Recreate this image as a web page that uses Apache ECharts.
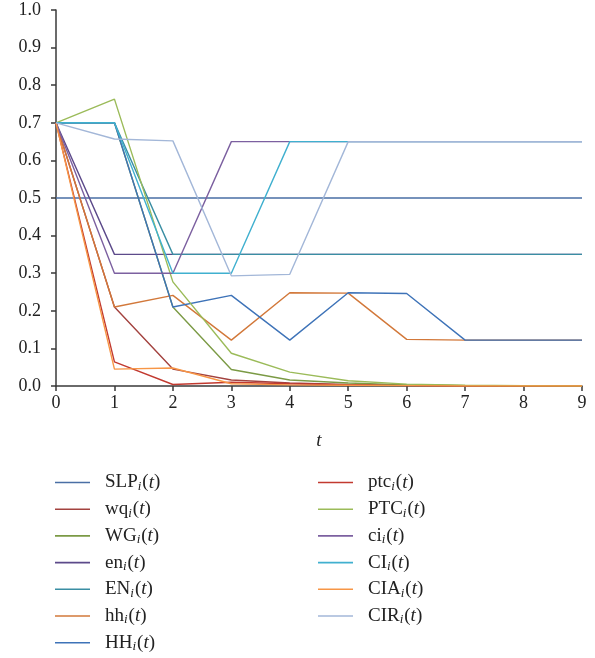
<!DOCTYPE html>
<html>
<head>
<meta charset="utf-8">
<script src="https://cdn.jsdelivr.net/npm/echarts@6/dist/echarts.min.js"></script>
<style>
  html, body { margin: 0; padding: 0; background: #fff; }
  #chart { width: 595px; height: 658px; }
</style>
</head>
<body>
<div id="chart"></div>
<script>
    // time steps
    var tSteps = [0, 1, 2, 3, 4, 5, 6, 7, 8, 9];

    // series values
    var SLP = [0.5, 0.5, 0.5, 0.5, 0.5, 0.5, 0.5, 0.5, 0.5, 0.5];
    var wq  = [0.7, 0.21, 0.045, 0.016, 0.008, 0.004, 0.002, 0.001, 0, 0];
    var WG  = [0.7, 0.7, 0.21, 0.044, 0.016, 0.008, 0.003, 0.001, 0, 0];
    var en  = [0.7, 0.35, 0.35, 0.35, 0.35, 0.35, 0.35, 0.35, 0.35, 0.35];
    var EN  = [0.7, 0.7, 0.35, 0.35, 0.35, 0.35, 0.35, 0.35, 0.35, 0.35];
    var hh  = [0.7, 0.21, 0.241, 0.122, 0.248, 0.247, 0.124, 0.122, 0.122, 0.122];
    var HH  = [0.7, 0.7, 0.21, 0.241, 0.122, 0.248, 0.246, 0.122, 0.122, 0.122];
    var ptc = [0.7, 0.064, 0.004, 0.01, 0.006, 0.003, 0.001, 0, 0, 0];
    var PTC = [0.7, 0.763, 0.277, 0.087, 0.037, 0.014, 0.005, 0.002, 0.001, 0];
    var ci  = [0.7, 0.3, 0.3, 0.65, 0.65, 0.65, 0.65, 0.65, 0.65, 0.65];
    var CI  = [0.7, 0.7, 0.3, 0.3, 0.65, 0.65, 0.65, 0.65, 0.65, 0.65];
    var CIA = [0.7, 0.045, 0.048, 0.006, 0.003, 0.002, 0.001, 0, 0, 0];
    var CIR = [0.7, 0.657, 0.652, 0.293, 0.297, 0.65, 0.65, 0.65, 0.65, 0.65];

    var leftNames  = ['SLP', 'wq', 'WG', 'en', 'EN', 'hh', 'HH'];
    var rightNames = ['ptc', 'PTC', 'ci', 'CI', 'CIA', 'CIR'];

    var seriesDefs = [
        ['SLP', SLP, '#4a6fa5'],
        ['wq',  wq,  '#a3423f'],
        ['WG',  WG,  '#7b9a45'],
        ['en',  en,  '#5c4a8a'],
        ['EN',  EN,  '#3a8ea3'],
        ['hh',  hh,  '#d2783a'],
        ['HH',  HH,  '#3e73b8'],
        ['ptc', ptc, '#c23a30'],
        ['PTC', PTC, '#9bbb59'],
        ['ci',  ci,  '#7c60a0'],
        ['CI',  CI,  '#40b0cf'],
        ['CIA', CIA, '#f79646'],
        ['CIR', CIR, '#a3b7d8']
    ];

    var serif = '"Liberation Serif", "DejaVu Serif", serif';

    var legendRich = {
        n:  { fontFamily: serif, fontSize: 19, color: '#222', lineHeight: 20 },
        s:  { fontFamily: serif, fontSize: 13, fontStyle: 'italic', color: '#222', padding: [8, 1, 0, 0], lineHeight: 12 },
        it: { fontFamily: serif, fontSize: 19, fontStyle: 'italic', color: '#222', lineHeight: 20 }
    };

    function legendFmt(name) {
        return '{n|' + name + '}{s|i}{n|(}{it|t}{n|)}';
    }

    function makeLegend(names, left) {
        return {
            data: names,
            orient: 'vertical',
            left: left,
            top: 472,
            height: 186,
            padding: 0,
            icon: 'rect',
            itemWidth: 35,
            itemHeight: 1.6,
            itemGap: 5.7,
            selectedMode: false,
            formatter: legendFmt,
            textStyle: { rich: legendRich, padding: [0, 0, 0, 10] }
        };
    }

    var chart = echarts.init(document.getElementById('chart'));

    var option = {
        animation: false,
        grid: { left: 56, right: 13, top: 10, bottom: 272 },
        legend: [makeLegend(leftNames, 55), makeLegend(rightNames, 318)],
        xAxis: {
            type: 'value',
            min: 0,
            max: 9,
            interval: 1,
            name: 't',
            nameLocation: 'middle',
            nameGap: 45,
            nameTextStyle: { fontFamily: serif, fontSize: 19, fontStyle: 'italic', color: '#222' },
            axisLine: { show: true, lineStyle: { color: '#3a3a3a', width: 1.5 } },
            axisTick: { show: true, length: 5, lineStyle: { color: '#3a3a3a', width: 1.5 } },
            axisLabel: { fontFamily: serif, fontSize: 18, color: '#222', margin: 8 },
            splitLine: { show: false }
        },
        yAxis: {
            type: 'value',
            min: 0,
            max: 1,
            interval: 0.1,
            axisLine: { show: true, lineStyle: { color: '#3a3a3a', width: 1.5 } },
            axisTick: { show: true, length: 5, lineStyle: { color: '#3a3a3a', width: 1.5 } },
            axisLabel: {
                fontFamily: serif, fontSize: 18, color: '#222', margin: 15,
                formatter: function (v) { return v.toFixed(1); }
            },
            splitLine: { show: false }
        },
        series: seriesDefs.map(function (d) {
            return {
                name: d[0],
                type: 'line',
                symbol: 'none',
                color: d[2],
                lineStyle: { color: d[2], width: 1.4 },
                emphasis: { disabled: true },
                data: tSteps.map(function (t, i) { return [t, d[1][i]]; })
            };
        })
    };

    chart.setOption(option);
</script>
</body>
</html>
